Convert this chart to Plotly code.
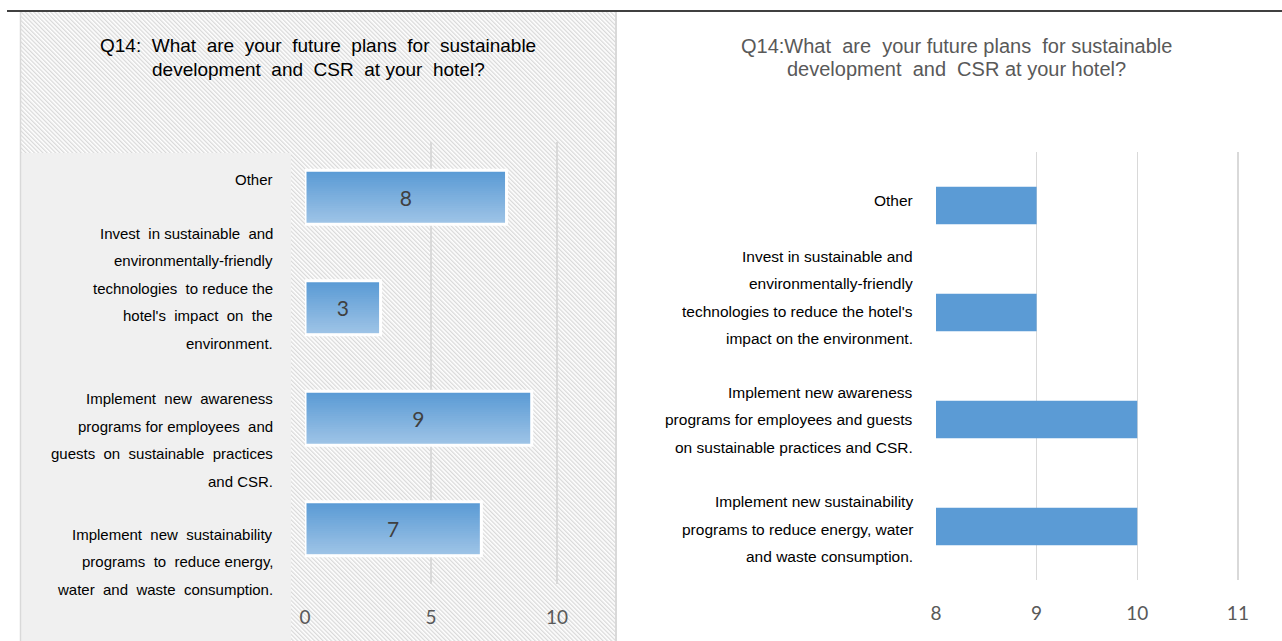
import urllib.parse
import plotly.graph_objects as go

# ---- data -------------------------------------------------------------
categories = [
    "Implement new sustainability programs",
    "Implement new awareness programs",
    "Invest in sustainable technologies",
    "Other",
]
left_values = [7, 9, 3, 8]
right_values = [10, 10, 9, 9]

left_labels = [
    ["Implement  new  sustainability", "programs  to  reduce energy,", "water  and  waste  consumption."],
    ["Implement  new  awareness", "programs for employees  and", "guests  on  sustainable  practices", "and CSR."],
    ["Invest  in sustainable  and", "environmentally-friendly", "technologies  to reduce the", "hotel's  impact  on  the", "environment."],
    ["Other"],
]
right_labels = [
    ["Implement new sustainability", "programs to reduce energy, water", "and waste consumption."],
    ["Implement new awareness", "programs for employees and guests", "on sustainable practices and CSR."],
    ["Invest in sustainable and", "environmentally-friendly", "technologies to reduce the hotel's", "impact on the environment."],
    ["Other"],
]
left_ticks = [0, 5, 10]
right_ticks = [8, 9, 10, 11]

left_title = ["Q14:  What  are  your  future  plans  for  sustainable",
              "development  and  CSR  at your  hotel?"]
right_title = ["Q14:What  are  your future plans  for sustainable",
               "development  and  CSR at your hotel?"]

# ---- styling ----------------------------------------------------------
W, H = 1282, 641
LABEL_FONT = "Liberation Sans, Arial, sans-serif"
NUM_FONT = "Lato, Open Sans, sans-serif"
LINE_GAP = 27.5
# vertical offset (px, downward) of each label block from its bar centre
left_block_shift = [33, 21.5, -19.5, -17.5]
right_block_shift = [2.5, 0, -15, -5.5]


def px_x(p):
    return p / W


def px_y(p):
    return 1 - p / H


fig = go.Figure()

# left chart: gradient bars built from stacked slices, each running to the
# top edge so later (darker) slices cover the earlier ones without seams
bar_w = 0.47
n_slices = 24
top_rgb = (91, 155, 213)
bot_rgb = (157, 195, 230)
for i in range(n_slices):
    t = i / (n_slices - 1)
    c = tuple(round(bot_rgb[k] + (top_rgb[k] - bot_rgb[k]) * t) for k in range(3))
    off = -bar_w / 2 + i * bar_w / n_slices
    fig.add_trace(go.Bar(
        x=left_values, y=categories, orientation="h",
        width=bar_w / 2 - off,
        offset=off,
        marker=dict(color="rgb(%d,%d,%d)" % c, line=dict(width=0)),
        xaxis="x", yaxis="y", hoverinfo="skip", showlegend=False,
    ))

# white outline + value labels
fig.add_trace(go.Bar(
    x=left_values, y=categories, orientation="h", width=0.49,
    marker=dict(color="rgba(0,0,0,0)", line=dict(color="white", width=3)),
    text=[str(v) for v in left_values], textposition="inside",
    insidetextanchor="middle",
    textfont=dict(family=NUM_FONT, size=21, color="#404040"),
    xaxis="x", yaxis="y", hoverinfo="skip", showlegend=False,
))

# right chart: plain bars
fig.add_trace(go.Bar(
    x=right_values, y=categories, orientation="h", width=0.35,
    marker=dict(color="#5b9bd5", line=dict(width=0)),
    xaxis="x2", yaxis="y2", hoverinfo="skip", showlegend=False,
))

annotations = []


def add_labels(label_sets, shifts, x_right, yref, size):
    for ci, lines in enumerate(label_sets):
        n = len(lines)
        for k, line in enumerate(lines):
            dy = shifts[ci] + (k - (n - 1) / 2) * LINE_GAP
            annotations.append(dict(
                text=line.replace("  ", "&nbsp; "), xref="paper", x=px_x(x_right),
                xanchor="right", yref=yref, y=ci, yanchor="middle", yshift=-dy,
                showarrow=False, align="right", borderpad=0,
                font=dict(family=LABEL_FONT, size=size, color="#000000"),
            ))


add_labels(left_labels, left_block_shift, 274, "y", 15)
add_labels(right_labels, right_block_shift, 914, "y2", 15.5)

for k, line in enumerate(left_title):
    annotations.append(dict(
        text=line.replace("  ", "&nbsp; "), xref="paper", yref="paper",
        x=px_x(318), y=px_y(46 + 23 * k),
        xanchor="center", yanchor="middle", showarrow=False,
        font=dict(family=LABEL_FONT, size=19, color="#000000"),
    ))
for k, line in enumerate(right_title):
    annotations.append(dict(
        text=line.replace("  ", "&nbsp; "), xref="paper", yref="paper",
        x=px_x(956), y=px_y(46 + 23 * k),
        xanchor="center", yanchor="middle", showarrow=False,
        font=dict(family=LABEL_FONT, size=20, color="#595959"),
    ))

# diagonal hatch background for the left panel
hatch_svg = (
    "<svg xmlns='http://www.w3.org/2000/svg' width='596' height='629'>"
    "<defs><pattern id='h' width='3' height='3' patternUnits='userSpaceOnUse' "
    "patternTransform='rotate(-45)'>"
    "<rect width='3' height='3' fill='#ffffff'/>"
    "<rect width='1.3' height='3' fill='#d9d9d9'/></pattern></defs>"
    "<rect width='100%' height='100%' fill='url(#h)'/></svg>"
)
hatch_src = "data:image/svg+xml;utf8," + urllib.parse.quote(hatch_svg)

images = [dict(
    source=hatch_src, xref="paper", yref="paper",
    x=px_x(20), y=px_y(12), sizex=596 / W, sizey=629 / H,
    xanchor="left", yanchor="top", sizing="stretch", layer="below",
)]

shapes = [
    # label panel
    dict(type="rect", xref="paper", yref="paper", x0=px_x(21), x1=px_x(291),
         y0=px_y(641), y1=px_y(153), fillcolor="#f0f0f0", line=dict(width=0),
         layer="below"),
    # panel borders
    dict(type="line", xref="paper", yref="paper", x0=px_x(20.5), x1=px_x(20.5),
         y0=px_y(12), y1=0, line=dict(color="#d9d9d9", width=1.5), layer="below"),
    dict(type="line", xref="paper", yref="paper", x0=px_x(616), x1=px_x(616),
         y0=px_y(12), y1=0, line=dict(color="#d9d9d9", width=2), layer="below"),
    # top rule
    dict(type="line", xref="paper", yref="paper", x0=px_x(7), x1=1,
         y0=px_y(11), y1=px_y(11), line=dict(color="#000000", width=1.5)),
]

grid_style = dict(showgrid=True, gridcolor="#d9d9d9", gridwidth=1.5,
                  zeroline=False, showline=False, ticks="",
                  tickfont=dict(family=NUM_FONT, size=19, color="#595959"),
                  fixedrange=True)

fig.update_layout(
    width=W, height=H,
    margin=dict(l=0, r=0, t=0, b=0, pad=0, autoexpand=False),
    paper_bgcolor="white", plot_bgcolor="rgba(0,0,0,0)",
    barmode="overlay", showlegend=False,
    annotations=annotations, images=images, shapes=shapes,
    xaxis=dict(domain=[px_x(305), px_x(600)], range=[0, 11.71],
               tickvals=left_ticks, ticklabelstandoff=20, anchor="y", **grid_style),
    yaxis=dict(domain=[px_y(584), px_y(142)], range=[-0.5, 3.5],
               type="category", categoryorder="array", categoryarray=categories,
               showticklabels=False, showgrid=False, zeroline=False,
               fixedrange=True, anchor="x"),
    xaxis2=dict(domain=[px_x(936), px_x(1258)], range=[8, 11.2],
                tickvals=right_ticks, ticklabelstandoff=20, anchor="y2", **grid_style),
    yaxis2=dict(domain=[px_y(580), px_y(152)], range=[-0.5, 3.5],
                type="category", categoryorder="array", categoryarray=categories,
                showticklabels=False, showgrid=False, zeroline=False,
                fixedrange=True, anchor="x2"),
)

fig.write_html("out.html", config={"displayModeBar": False, "staticPlot": True})
